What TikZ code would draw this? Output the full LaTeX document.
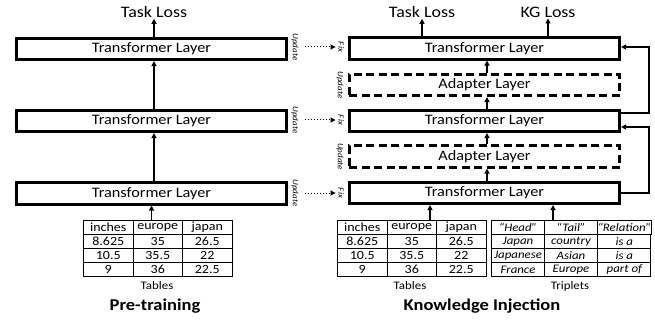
\documentclass[tikz,border=0pt]{standalone}
\usepackage{fontspec}
\setmainfont{Carlito}[FakeStretch=1.12]
\usetikzlibrary{arrows.meta,matrix,calc}
\begin{document}
\begin{tikzpicture}[x=1pt,y=-1pt,
  tl/.style={draw,line width=2.6pt,minimum width=270.5pt,minimum height=21.5pt,inner sep=0pt,font=\fontsize{14.5}{15}\selectfont},
  ad/.style={tl,dash pattern=on 8pt off 4.5pt},
  up/.style={line width=1.5pt,-{Triangle[length=5pt,width=5pt]}},
  fb/.style={line width=1.4pt,-{Triangle[length=5pt,width=5pt]}},
  dotarr/.style={line width=1pt,dotted,-{Triangle[length=5pt,width=5pt]}},
  loss/.style={font=\fontsize{16}{17}\selectfont,inner sep=1pt},
  small/.style={font=\fontsize{8}{8}\itshape,rotate=-90,inner sep=0.5pt},
  tab/.style={matrix of nodes,inner sep=0pt,outer sep=0pt,column sep=-1pt,row sep=-1pt,
    nodes={draw,line width=1pt,minimum width=49.5pt,minimum height=14pt,inner sep=0pt,anchor=center,font=\fontsize{12.5}{13}\selectfont}},
  lbl/.style={font=\fontsize{11.5}{12}\selectfont,inner sep=0pt},
  title/.style={font=\fontsize{16.5}{17}\bfseries,inner sep=0pt}
]
\useasboundingbox[fill=white] (0,0) rectangle (655,323);

% ---------- Pre-training ----------
\node[tl] (L1) at (151.5,49) {Transformer Layer};
\node[tl] (L2) at (151.5,121) {Transformer Layer};
\node[tl] (L3) at (151.5,193.5) {Transformer Layer};
\node[loss] (tlossL) at (154,12) {Task Loss};
\draw[up] (L1.north -| tlossL) -- (tlossL.south);
\draw[up] ([xshift=2.5pt]L2.north) -- ([xshift=2.5pt]L1.south);
\draw[up] ([xshift=2.5pt]L3.north) -- ([xshift=2.5pt]L2.south);

\matrix (tabL) [tab,anchor=north west] at (83,220) {
  inches & europe & japan \\
  8.625 & 35 & 26.5 \\
  10.5 & 35.5 & 22 \\
  9 & 36 & 22.5 \\
};
\draw[up] (tabL.north -| L3) -- (L3.south);
\node[lbl] (tabLlbl) at (157,286) {Tables};
\node[title] (pre) at (155,306) {Pre-training};

% ---------- Knowledge Injection ----------
\node[tl] (R1) at (484.5,48.5) {Transformer Layer};
\node[ad] (A1) at (484.5,85) {Adapter Layer};
\node[tl] (R2) at (484.5,121) {Transformer Layer};
\node[ad] (A2) at (484.5,156.5) {Adapter Layer};
\node[tl] (R3) at (484.5,193) {Transformer Layer};

\node[loss] (tlossR) at (422,12) {Task Loss};
\node[loss] (kgloss) at (548,12) {KG Loss};
\draw[up] (R1.north -| tlossR) -- (tlossR.south);
\draw[up] (R1.north -| kgloss) -- (kgloss.south);
\draw[up] ([xshift=2.5pt]A1.north) -- ([xshift=2.5pt]R1.south);
\draw[up] ([xshift=2.5pt]R2.north) -- ([xshift=2.5pt]A1.south);
\draw[up] ([xshift=2.5pt]A2.north) -- ([xshift=2.5pt]R2.south);
\draw[up] ([xshift=2.5pt]R3.north) -- ([xshift=2.5pt]A2.south);

\draw[fb] ($(R2.east)+(0,-8)$) -- ++(28,0) |- ($(R1.east)+(0,-1.5)$);
\draw[fb] (R3.east) -- ++(28,0) |- ($(R2.east)+(0,6)$);

\matrix (tabR) [tab,anchor=north west] at (337,220) {
  inches & europe & japan \\
  8.625 & 35 & 26.5 \\
  10.5 & 35.5 & 22 \\
  9 & 36 & 22.5 \\
};
\matrix (trip) [tab,anchor=north west,nodes={minimum width=53pt,font=\fontsize{11.5}{12}\itshape}] at (491,220) {
  “Head” & “Tail” & “Relation” \\
  Japan & country & is a \\
  Japanese & Asian & is a \\
  France & Europe & part of \\
};
\coordinate (ta) at (430,0);
\coordinate (tb) at (553,0);
\draw[up] (tabR.north -| ta) -- (R3.south -| ta);
\draw[up] (trip.north -| tb) -- (R3.south -| tb);
\node[lbl] (tabRlbl) at (410,286) {Tables};
\node[lbl] (triplbl) at (570,286) {Triplets};
\node[title] (ki) at (482,306) {Knowledge Injection};

% ---------- Update / Fix labels ----------
\node[small] (uL1) at (295,47) {Update};
\node[small] (uL2) at (295,120) {Update};
\node[small] (uL3) at (295,193) {Update};
\node[small] (fR1) at (341,47) {Fix};
\node[small] (fR2) at (341,120) {Fix};
\node[small] (fR3) at (341,193) {Fix};
\node[small] (uA1) at (340,85) {Update};
\node[small] (uA2) at (340,156.5) {Update};
\draw[dotarr] (305,0 |- uL1) -- ([xshift=-2pt]fR1.south);
\draw[dotarr] (305,0 |- uL2) -- ([xshift=-2pt]fR2.south);
\draw[dotarr] (305,0 |- uL3) -- ([xshift=-2pt]fR3.south);
\end{tikzpicture}
\end{document}
